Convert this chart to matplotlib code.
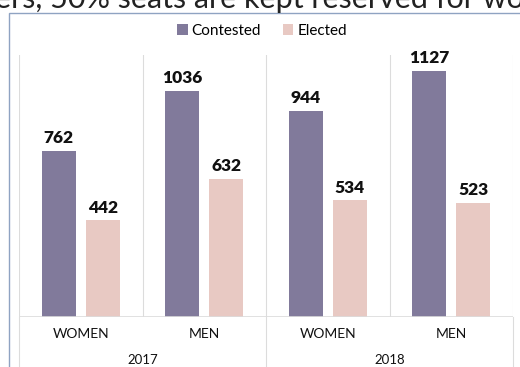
import matplotlib.pyplot as plt
from matplotlib.patches import Rectangle
from matplotlib.lines import Line2D

plt.rcParams['font.family'] = ['Lato', 'DejaVu Sans']

categories = ['WOMEN', 'MEN', 'WOMEN', 'MEN']
years = ['2017', '2018']
contested = [762, 1036, 944, 1127]
elected = [442, 632, 534, 523]

c_col = '#817a9b'
e_col = '#e8c9c3'
grid_col = '#dcdcdc'

W, H = 520, 367
fig = plt.figure(figsize=(W / 100, H / 100), dpi=100)

# slide text above the chart, cut off by the picture edge
fig.text(-0.01, 1 - 8 / H, 'ers, 50% seats are kept reserved for women', fontsize=22,
         color='#222222', va='baseline', ha='left')

# chart frame
fig.patches.append(Rectangle((8.5 / W, -0.1), 1.2, (H - 12.5) / H + 0.1, transform=fig.transFigure,
                             fill=False, edgecolor='#8fa3c2', linewidth=1.0))

x0, x1, y0, y1 = 19, 513, 317, 55
ax = fig.add_axes([x0 / W, 1 - y0 / H, (x1 - x0) / W, (y0 - y1) / H])

xs = range(len(categories))
off, bw = 0.178, 0.275
bc = ax.bar([x - off for x in xs], contested, bw, color=c_col, label='Contested')
be = ax.bar([x + off for x in xs], elected, bw, color=e_col, label='Elected')
for bars, vals in ((bc, contested), (be, elected)):
    for b, v in zip(bars, vals):
        ax.text(b.get_x() + b.get_width() / 2, v + 22, str(v), ha='center', va='bottom',
                fontsize=12.5, fontweight='heavy', color='#111111')

ax.set_xlim(-0.5, 3.5)
ax.set_ylim(0, 1200)
for s in ax.spines.values():
    s.set_visible(False)
ax.set_xticks([])
ax.set_yticks([])
for gx in [-0.5, 0.5, 1.5, 2.5, 3.5]:
    ax.axvline(gx, color=grid_col, lw=0.8, zorder=0)
ax.axhline(0, color=grid_col, lw=1.2)

# category labels
for x, c in zip(xs, categories):
    ax.text(x, -80, c, ha='center', va='center', fontsize=10, color='#111111')
for i, yr in enumerate(years):
    ax.text(0.5 + 2 * i, -195, yr, ha='center', va='center', fontsize=9.5, color='#111111')
for gx in [-0.5, 1.5, 3.5]:
    ax.add_line(Line2D([gx, gx], [0, -300], color=grid_col, lw=0.8, clip_on=False))

fig.legend(handles=[bc, be], loc='center', bbox_to_anchor=(262 / W, 1 - 31 / H), ncol=2,
           frameon=False, fontsize=11, handlelength=0.7, handleheight=0.7,
           handletextpad=0.25, columnspacing=1.4)

fig.savefig('out.png', dpi=100)
